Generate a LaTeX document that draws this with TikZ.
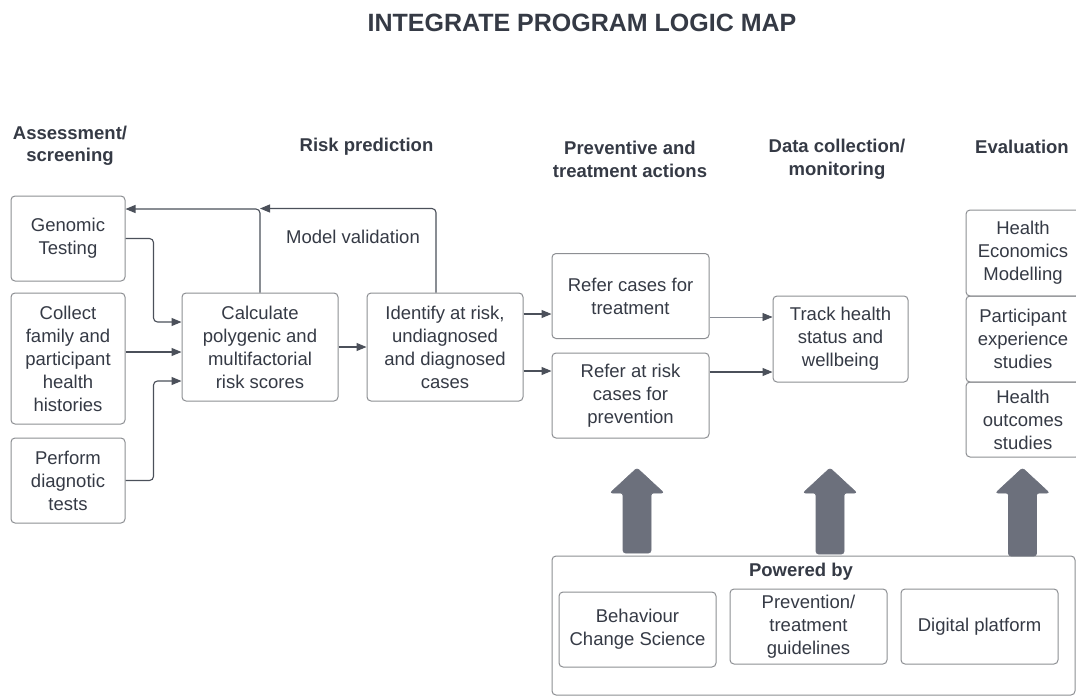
\documentclass[tikz,border=0pt]{standalone}
\usepackage{fontspec}
\setmainfont{Liberation Sans}
\usetikzlibrary{arrows.meta,calc}
\definecolor{txt}{HTML}{353A45}
\definecolor{bord}{HTML}{8D8F93}
\definecolor{lin}{HTML}{4B505A}
\definecolor{lin2}{HTML}{8A8E96}
\definecolor{big}{HTML}{6C707C}
\begin{document}
\begin{tikzpicture}[x=1pt,y=-1pt,
  box/.style={draw=bord, line width=1pt, rounded corners=4pt, align=center,
    text=txt, font=\fontsize{18.5}{23}\selectfont, inner sep=0pt},
  head/.style={align=center, text=txt, font=\bfseries\fontsize{18.5}{22.5}\selectfont, inner sep=0pt},
  conn/.style={draw=lin, line width=1.1pt, rounded corners=4pt,
    -{Triangle[length=10pt,width=8pt]}},
  thinconn/.style={draw=lin2, line width=0.7pt,
    -{Triangle[length=10pt,width=8pt,fill=lin,color=lin]}},
  bigarrow/.style={fill=big, draw=big, line width=0.6pt, rounded corners=2.5pt}
]
\useasboundingbox (0,0) rectangle (1076,696);
\fill[white] (0,0) rectangle (1076,696);

% title and column headers
\node[head, font=\bfseries\fontsize{25}{30}\selectfont] (title) at (582,23) {INTEGRATE PROGRAM LOGIC MAP};
\node[head] (h1) at (70,146) {Assessment/\\screening};
\node[head] (h2) at (366.5,147) {Risk prediction};
\node[head] (h3) at (630,159.5) {Preventive and\\treatment actions};
\node[head] (h4) at (837,159.5) {Data collection/\\monitoring};
\node[head] (h5) at (1022,147) {Evaluation};

% assessment boxes
\node[box, minimum width=114pt, minimum height=85pt] (gen) at (68,238.5) {Genomic\\Testing};
\node[box, minimum width=114pt, minimum height=131pt] (col) at (68,358.5) {Collect\\family and\\participant\\health\\histories};
\node[box, minimum width=114pt, minimum height=85pt] (per) at (68,480.5) {Perform\\diagnotic\\tests};

% risk prediction
\node[box, minimum width=156pt, minimum height=108pt] (calc) at (260,347) {Calculate\\polygenic and\\multifactorial\\risk scores};
\node[box, minimum width=156pt, minimum height=108pt] (ident) at (445,347) {Identify at risk,\\undiagnosed\\and diagnosed\\cases};
\node[text=txt, font=\fontsize{18.5}{23}\selectfont, inner sep=0pt] (mv) at (353,236.5) {Model validation};

% preventive and treatment actions
\node[box, minimum width=157pt, minimum height=85pt] (refT) at (630.5,296) {Refer cases for\\treatment};
\node[box, minimum width=157pt, minimum height=85pt] (refP) at (630.5,395.5) {Refer at risk\\cases for\\prevention};

% monitoring
\node[box, minimum width=135pt, minimum height=86pt] (track) at (840.5,339) {Track health\\status and\\wellbeing};

% evaluation
\node[box, minimum width=114pt, minimum height=86pt] (econ) at (1023,253) {Health\\Economics\\Modelling};
\node[box, minimum width=114pt, minimum height=86pt] (part) at (1023,339) {Participant\\experience\\studies};
\node[box, minimum width=114pt, minimum height=75pt] (outc) at (1023,419.5) {Health\\outcomes\\studies};

% powered by
\node[box, minimum width=523pt, minimum height=139pt] (pow) at (813.5,625.5) {};
\node[head] (powt) at (801,572) {Powered by};
\node[box, minimum width=157pt, minimum height=75pt] (beh) at (637.5,629.5) {Behaviour\\Change Science};
\node[box, minimum width=157pt, minimum height=75pt] (prev) at (808.5,626.5) {Prevention/\\treatment\\guidelines};
\node[box, minimum width=157pt, minimum height=75pt] (dig) at (979.5,626.5) {Digital platform};

% connectors
\draw[conn] (gen.east) -- ++(28,0) |- ([yshift=25pt]calc.west);
\draw[conn] ([yshift=-5pt]calc.west -| col.east) -- ([yshift=-5pt]calc.west);
\draw[conn] (per.east) -- ++(28,0) |- ([yshift=-34pt]calc.west);
\draw[conn] (calc) -- (ident);
\draw[conn] (calc.north) |- ([yshift=29.5pt]gen.east);
\draw[conn] ([xshift=-9pt]ident.north) |- ([yshift=84pt]calc.north);
\draw[conn] ([yshift=33pt]ident.east) -- ([yshift=33pt]ident.east -| refT.west);
\draw[conn] ([yshift=-24pt]ident.east) -- ([yshift=-24pt]ident.east -| refP.west);
\draw[thinconn] ([yshift=-21pt]refT.east) -- ([yshift=-21pt]refT.east -| track.west);
\draw[conn] ([yshift=23.5pt]refP.east) -- ([yshift=23.5pt]refP.east -| track.west);

% big block arrows
\foreach \cx/\by in {637/553, 830/554, 1022.5/556} {
  \path[bigarrow] (\cx-14,\by) -- (\cx-14,493) -- (\cx-27,493) -- (\cx,468)
    -- (\cx+27,493) -- (\cx+14,493) -- (\cx+14,\by) -- cycle;
}
\end{tikzpicture}
\end{document}
